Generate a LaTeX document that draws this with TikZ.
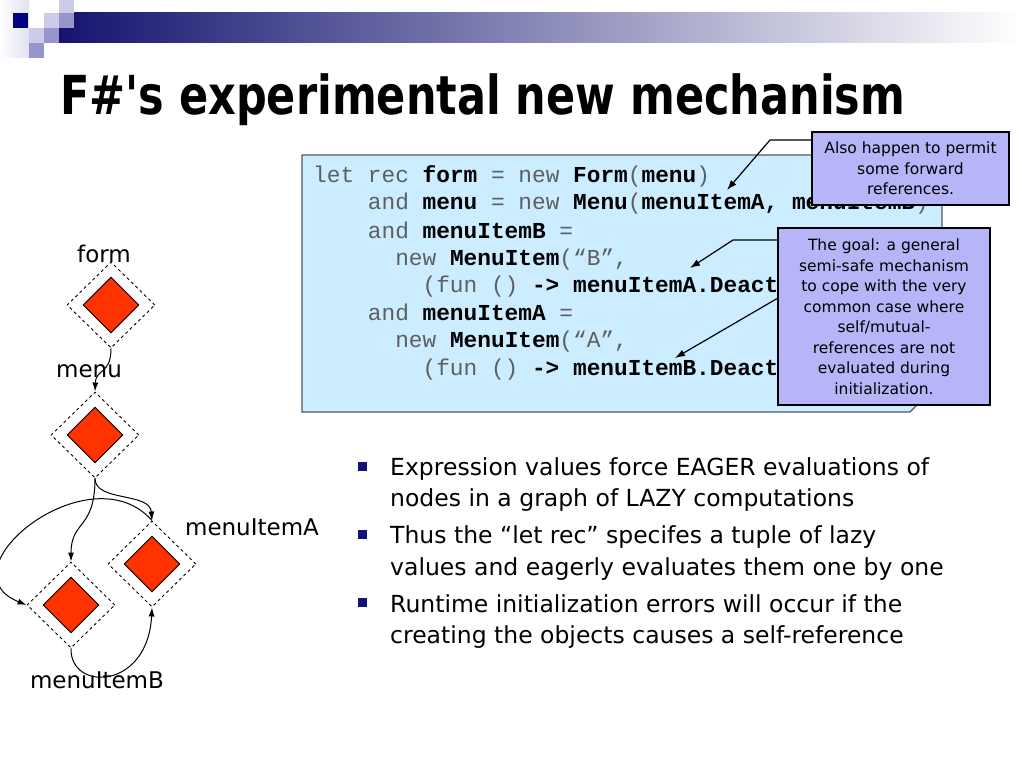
\documentclass[tikz,border=0pt]{standalone}
\usepackage{fontspec}
\setmainfont{DejaVu Sans}
\newfontfamily\codefont{Liberation Mono}
\usetikzlibrary{shapes.geometric, arrows.meta, calc}
\definecolor{navybar}{RGB}{20,20,112}
\definecolor{sqnavy}{RGB}{0,0,128}
\definecolor{sqlight}{RGB}{204,204,232}
\definecolor{sqmid}{RGB}{150,150,204}
\definecolor{codebg}{RGB}{204,236,255}
\definecolor{codegray}{RGB}{95,95,95}
\definecolor{notefill}{RGB}{181,181,247}
\definecolor{nodered}{RGB}{255,51,0}
\definecolor{bulletblue}{RGB}{20,20,120}
\newcommand{\rg}[1]{\textcolor{codegray}{#1}}

\tikzset{
  codeline/.style={anchor=base west, inner sep=0pt, font=\codefont\fontsize{22.8}{27}\selectfont},
  bulletline/.style={anchor=base west, inner sep=0pt, font=\fontsize{23.5}{31}\selectfont},
  notebox/.style={draw=black, line width=1.2pt, fill=notefill, align=center, inner sep=0pt,
    font=\fontsize{15.5}{20.5}\selectfont},
  graphlabel/.style={anchor=base, inner sep=0pt, font=\fontsize{23}{27}\selectfont},
  outerdiamond/.style={diamond, draw, dashed, line width=0.9pt, minimum width=88pt, minimum height=86pt, inner sep=0pt},
  innerdiamond/.style={diamond, draw, fill=nodered, line width=0.9pt, minimum width=56pt, minimum height=56pt, inner sep=0pt},
  lazyedge/.style={-{Latex[length=9pt,width=6pt]}, line width=1pt},
  notearrow/.style={-{Latex[length=10pt,width=7pt]}, line width=1.2pt}
}

\begin{document}
\begin{tikzpicture}[x=1pt, y=-1pt]
\useasboundingbox (0,0) rectangle (1024,767);
\fill[white] (0,0) rectangle (1024,767);

% Header bar and squares
\shade[left color=white, right color=sqlight!60] (0,0) rectangle (29,58);
\shade[left color=navybar, right color=white] (59,13) rectangle (1020,43);
\fill[sqnavy] (13,13) rectangle (28,28);
\fill[sqlight] (29,28) rectangle (44,43);
\fill[sqlight] (44,13) rectangle (59,28);
\fill[sqlight] (59,0) rectangle (74,13);
\fill[sqmid] (59,13) rectangle (74,28);
\fill[sqmid] (44,28) rectangle (59,43);
\fill[sqmid] (29,43) rectangle (44,58);

% Title
\node[anchor=base west, inner sep=0pt, font=\bfseries\fontsize{43}{50}\selectfont\addfontfeatures{Ligatures=TeXOff}] (title) at (60,115)
  {\scalebox{1}[1.25]{F\#'s experimental new mechanism}};

% Code box
\draw[fill=codebg, draw=black!65, line width=1.2pt] (302,155) -- (942,155) -- (942,380) -- (910,412) -- (302,412) -- cycle;
\node[codeline] (code1) at (313,183) {\rg{let rec} \textbf{form} \rg{= new} \textbf{Form}\rg{(}\textbf{menu}\rg{)}};
\node[codeline] (code2) at (367.7,210) {\rg{and} \textbf{menu} \rg{= new} \textbf{Menu}\rg{(}\textbf{menuItemA, menuItemB}\rg{)}};
\node[codeline] (code3) at (367.7,238) {\rg{and} \textbf{menuItemB} \rg{=}};
\node[codeline] (code4) at (395.1,265) {\rg{new} \textbf{MenuItem}\rg{(“B”,}};
\node[codeline] (code5) at (422.4,292) {\rg{(fun ()} \textbf{->} \textbf{menuItemA.Deact}};
\node[codeline] (code6) at (367.7,320) {\rg{and} \textbf{menuItemA} \rg{=}};
\node[codeline] (code7) at (395.1,347) {\rg{new} \textbf{MenuItem}\rg{(“A”,}};
\node[codeline] (code8) at (422.4,375) {\rg{(fun ()} \textbf{->} \textbf{menuItemB.Deact}};

% Callouts
\node[notebox, minimum width=197pt, minimum height=73pt] (note1) at (910.5,168.5)
  {Also happen to permit\\some forward\\references.};
\node[notebox, minimum width=212pt, minimum height=177pt] (note2) at (884,316.5)
  {The goal: a general\\semi-safe mechanism\\to cope with the very\\common case where\\self/mutual-\\references are not\\evaluated during\\initialization.};

\coordinate (bendA) at (770,140);
\coordinate (tgtA) at (727,190);
\coordinate (bendB) at (733,240);
\coordinate (tgtB) at (690,268);
\coordinate (srcC) at (778,298);
\coordinate (tgtC) at (675,358);
\draw[notearrow] (note1.west |- bendA) -- (bendA) -- (tgtA);
\draw[notearrow] (note2.west |- bendB) -- (bendB) -- (tgtB);
\draw[notearrow] (srcC) -- (tgtC);

% Bullets
\foreach \by in {462,530,598} {
  \fill[bulletblue] (358,\by) rectangle (367,\by+9);
}
\node[bulletline] (bul1a) at (390,475) {Expression values force EAGER evaluations of};
\node[bulletline] (bul1b) at (390,506) {nodes in a graph of LAZY computations};
\node[bulletline] (bul2a) at (390,543) {Thus the “let rec” specifes a tuple of lazy};
\node[bulletline] (bul2b) at (390,575) {values and eagerly evaluates them one by one};
\node[bulletline] (bul3a) at (390,612) {Runtime initialization errors will occur if the};
\node[bulletline] (bul3b) at (390,643) {creating the objects causes a self-reference};

% Graph of lazy nodes
\node[outerdiamond] (form) at (111,305) {};
\node[innerdiamond] at (form) {};
\node[outerdiamond] (menu) at (95,435) {};
\node[innerdiamond] at (menu) {};
\node[outerdiamond] (itemA) at (152,564) {};
\node[innerdiamond] at (itemA) {};
\node[outerdiamond] (itemB) at (71,605) {};
\node[innerdiamond] at (itemB) {};

\node[graphlabel] (lblform) at (104,262) {form};
\node[graphlabel] (lblmenu) at (89,377) {menu};
\node[graphlabel] (lblA) at (252,535) {menuItemA};
\node[graphlabel] (lblB) at (97,688) {menuItemB};

\draw[lazyedge] (form.south) .. controls (111,375) and (96,368) .. (menu.north);
\draw[lazyedge] (menu.south) .. controls (95,502) and (150,492) .. (itemA.north);
\draw[lazyedge] (menu.south) .. controls (95,530) and (71,520) .. (itemB.north);
\draw[lazyedge] (itemA.north) .. controls (90,450) and (-60,570) .. (itemB.west);
\draw[lazyedge] (itemB.south) .. controls (70,692) and (148,690) .. (itemA.south);
\end{tikzpicture}
\end{document}
